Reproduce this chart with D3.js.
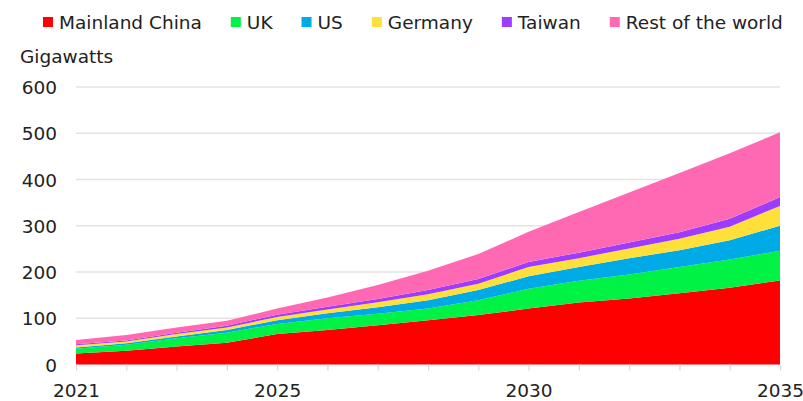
<!DOCTYPE html>
<html>
<head>
<meta charset="utf-8">
<script src="https://cdn.jsdelivr.net/npm/d3@7"></script>
<style>
  html, body { margin: 0; padding: 0; background: #fff; }
  svg { display: block; font-family: "DejaVu Sans", sans-serif; }
</style>
</head>
<body>
<svg id="chart" width="803" height="401"></svg>
<script>
const years = [2021,2022,2023,2024,2025,2026,2027,2028,2029,2030,2031,2032,2033,2034,2035];
const seriesNames = ["Mainland China", "UK", "US", "Germany", "Taiwan", "Rest of the world"];
const mainlandChina = [24, 30, 39, 47, 66, 75, 85, 96, 107, 121, 134, 143, 154, 166, 182];
const uk            = [10, 13, 18, 22, 22, 25, 25, 25, 32, 43, 47, 52, 57, 61, 64];
const us            = [3, 3, 4, 6, 8, 11, 14, 18, 22, 27, 30, 35, 36, 42, 54];
const germany       = [5, 4, 5, 5, 7, 8, 11, 13, 14, 20, 19, 21, 25, 29, 43];
const taiwan        = [2, 2, 3, 4, 5, 6, 7, 9, 10, 11, 12, 13, 14, 17, 19];
const restOfWorld   = [9, 12, 11, 11, 13, 20, 30, 42, 54, 65, 88, 108, 128, 142, 140];
const colors = ["#ff0000", "#00f244", "#00aae6", "#ffdf3a", "#9d3cff", "#ff69b4"];
const yTicks = [0, 100, 200, 300, 400, 500, 600];
const xTickLabels = [2021, 2025, 2030, 2035];

const seriesValues = [mainlandChina, uk, us, germany, taiwan, restOfWorld];
const rows = years.map((yr, i) => {
  const r = { year: yr };
  seriesNames.forEach((n, k) => r[n] = seriesValues[k][i]);
  return r;
});

const svg = d3.select("#chart");
svg.append("rect").attr("width", 803).attr("height", 401).attr("fill", "#fff");

const x = d3.scaleLinear().domain([2021, 2035]).range([76, 780]);
const y = d3.scaleLinear().domain([0, 600]).range([364.6, 87]);
const fs = 18.5;

// gridlines
svg.append("g").selectAll("line").data(yTicks.filter(d => d > 0)).join("line")
  .attr("x1", x(2021)).attr("x2", x(2035))
  .attr("y1", d => y(d)).attr("y2", d => y(d))
  .attr("stroke", "#e3e3e3").attr("stroke-width", 1.5);

// stacked areas
const stack = d3.stack().keys(seriesNames);
const layers = stack(rows);
const area = d3.area()
  .x(d => x(d.data.year))
  .y0(d => y(d[0]))
  .y1(d => y(d[1]))
  .curve(d3.curveLinear);
svg.append("g").selectAll("path").data(layers).join("path")
  .attr("d", area)
  .attr("fill", (d, i) => colors[i]);

// x axis ticks
const xAxis = d3.axisBottom(x)
  .tickValues(years)
  .tickSize(6)
  .tickFormat(d => xTickLabels.includes(d) ? d : "");
const gx = svg.append("g").attr("transform", `translate(0,${y(0)})`).call(xAxis);
gx.select(".domain").remove();
gx.selectAll(".tick line").attr("stroke", "#d8d8d8").attr("stroke-width", 1.2);
gx.selectAll(".tick text")
  .attr("font-size", fs).attr("fill", "#222")
  .attr("font-family", "DejaVu Sans, sans-serif")
  .attr("dy", null).attr("y", 32);

// y axis labels
const yAxis = d3.axisLeft(y).tickValues(yTicks).tickSize(0).tickPadding(0);
const gy = svg.append("g").attr("transform", `translate(57,0)`).call(yAxis);
gy.select(".domain").remove();
gy.selectAll(".tick text")
  .attr("font-size", fs).attr("fill", "#222")
  .attr("font-family", "DejaVu Sans, sans-serif")
  .attr("text-anchor", "end")
  .attr("x", 0).attr("dy", "0.35em");

// unit label
svg.append("text").attr("x", 20).attr("y", 63)
  .attr("font-size", fs).attr("fill", "#222").text("Gigawatts");

// legend
const legend = svg.append("g");
let lx = 43;
seriesNames.forEach((n, i) => {
  const g = legend.append("g");
  g.append("rect").attr("x", lx).attr("y", 17).attr("width", 10).attr("height", 10).attr("fill", colors[i]);
  const t = g.append("text").attr("x", lx + 16).attr("y", 29)
    .attr("font-size", fs).attr("fill", "#222").text(n);
  const w = t.node().getComputedTextLength();
  lx = lx + 16 + w + 29;
});
</script>
</body>
</html>
